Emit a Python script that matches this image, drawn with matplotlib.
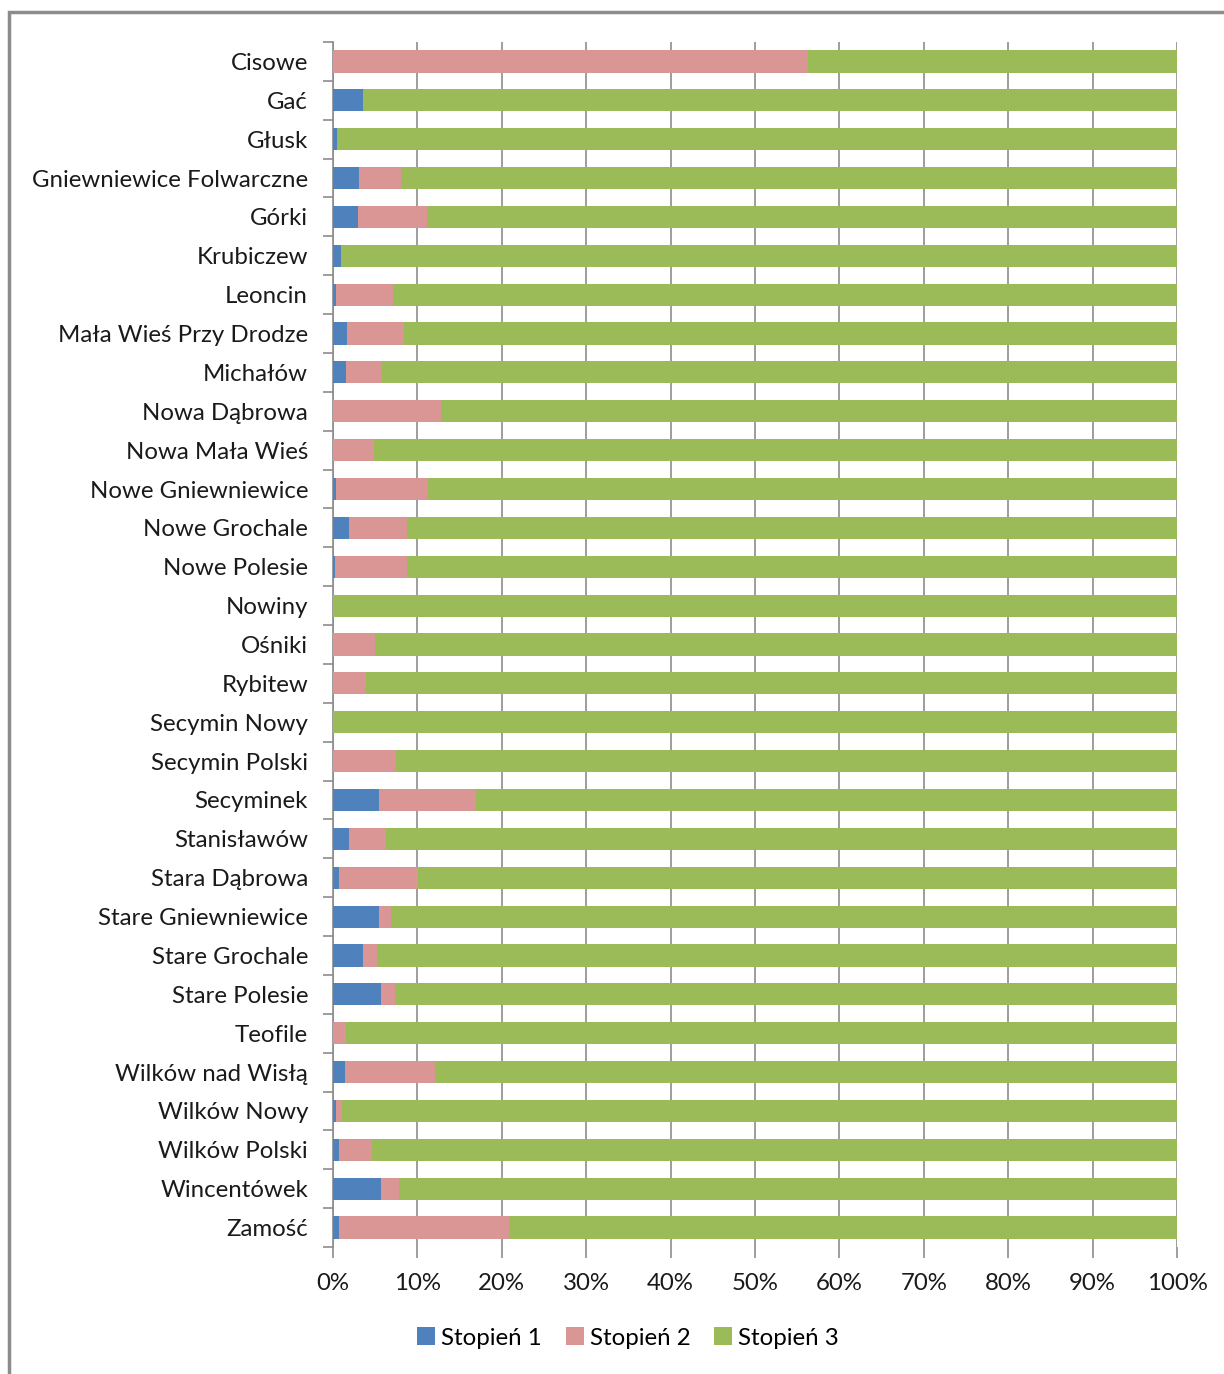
import numpy as np
import matplotlib.pyplot as plt
from matplotlib.patches import Rectangle
from matplotlib.ticker import FixedLocator

# Data (percent shares per village)
villages = ["Cisowe", "Gać", "Głusk", "Gniewniewice Folwarczne", "Górki", "Krubiczew",
            "Leoncin", "Mała Wieś Przy Drodze", "Michałów", "Nowa Dąbrowa", "Nowa Mała Wieś",
            "Nowe Gniewniewice", "Nowe Grochale", "Nowe Polesie", "Nowiny", "Ośniki",
            "Rybitew", "Secymin Nowy", "Secymin Polski", "Secyminek", "Stanisławów",
            "Stara Dąbrowa", "Stare Gniewniewice", "Stare Grochale", "Stare Polesie",
            "Teofile", "Wilków nad Wisłą", "Wilków Nowy", "Wilków Polski", "Wincentówek",
            "Zamość"]
stopien1 = [0.0, 3.6, 0.5, 3.1, 3.0, 0.95, 0.3, 1.7, 1.55, 0.0, 0.0, 0.3, 1.9, 0.25, 0.0,
            0.0, 0.0, 0.0, 0.0, 5.4, 1.9, 0.7, 5.4, 3.55, 5.7, 0.0, 1.4, 0.3, 0.7, 5.7, 0.7]
stopien2 = [56.3, 0.0, 0.0, 5.0, 8.1, 0.0, 6.85, 6.7, 4.15, 12.8, 4.8, 11.0, 6.9, 8.55, 0.0,
            5.0, 3.95, 0.0, 7.5, 11.6, 4.4, 9.35, 1.5, 1.65, 1.65, 1.5, 10.65, 0.8, 3.9, 2.1, 20.2]
stopien3 = [100 - a - b for a, b in zip(stopien1, stopien2)]

plt.rcParams['font.family'] = ['Lato', 'DejaVu Sans']

fig = plt.figure(figsize=(12.24, 13.74), dpi=100)
W, H = 1224, 1374
ax = fig.add_axes([333 / W, 1 - 1247 / H, (1177 - 333) / W, (1247 - 42) / H])

# outer frame of the chart area
fig.patches.append(Rectangle((9 / W, -0.05), 1.1, 1 - 12 / H + 0.05, transform=fig.transFigure,
                             fill=False, edgecolor="#8c8c8c", linewidth=2.5))

y = np.arange(len(villages))
h = 0.57
ax.barh(y, stopien1, height=h, color="#4F81BD", label="Stopień 1", zorder=3)
ax.barh(y, stopien2, left=stopien1, height=h, color="#D99694", label="Stopień 2", zorder=3)
left3 = [a + b for a, b in zip(stopien1, stopien2)]
ax.barh(y, stopien3, left=left3, height=h, color="#9BBB59", label="Stopień 3", zorder=3)

ax.set_ylim(len(villages) - 0.5, -0.5)
ax.set_xlim(0, 100)
ax.set_yticks(y)
ax.set_yticklabels(villages, fontsize=17.3, color="#1a1a1a")
ax.yaxis.set_minor_locator(FixedLocator(np.arange(-0.5, len(villages), 1)))
ax.tick_params(axis="y", which="major", length=0, pad=18)
ax.tick_params(axis="y", which="minor", length=7, color="#8c8c8c", width=1.2)

ax.set_xticks(np.arange(0, 101, 10))
ax.set_xticklabels([f"{v}%" for v in range(0, 101, 10)], fontsize=17.3, color="#1a1a1a")
ax.tick_params(axis="x", length=8, color="#8c8c8c", width=1.2, pad=11)
ax.grid(axis="x", color="#8c8c8c", linewidth=1.2, zorder=0)
ax.set_axisbelow(True)

for s in ["top", "right", "bottom"]:
    ax.spines[s].set_visible(False)
ax.spines["left"].set_color("#8c8c8c")
ax.spines["left"].set_linewidth(1.2)

fig.legend(loc="center", bbox_to_anchor=(628 / W, 1 - 1338 / H), ncol=3, frameon=False,
           fontsize=17.3, handlelength=0.75, handleheight=0.75, handletextpad=0.25,
           columnspacing=1.0)

plt.savefig("out.png", dpi=100)
